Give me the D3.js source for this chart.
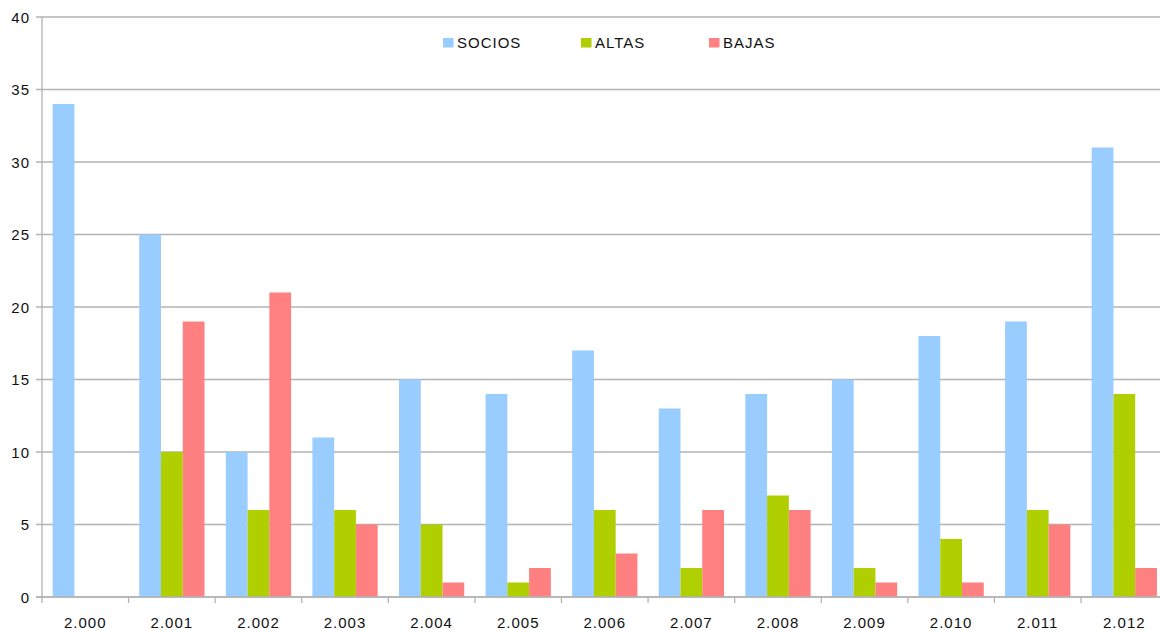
<!DOCTYPE html>
<html>
<head>
<meta charset="utf-8">
<script src="https://cdn.jsdelivr.net/npm/d3@7"></script>
<style>
  body { margin: 0; background: #fff; }
  text { font-family: "Liberation Sans", Arial, sans-serif; fill: #111; }
</style>
</head>
<body>
<div id="chart"></div>
<script>
// data
const years = ["2.000", "2.001", "2.002", "2.003", "2.004", "2.005", "2.006",
  "2.007", "2.008", "2.009", "2.010", "2.011", "2.012"];
const socios = [34, 25, 10, 11, 15, 14, 17, 13, 14, 15, 18, 19, 31];
const altas = [0, 10, 6, 6, 5, 1, 6, 2, 7, 2, 4, 6, 14];
const bajas = [0, 19, 21, 5, 1, 2, 3, 6, 6, 1, 1, 5, 2];
const seriesNames = ["SOCIOS", "ALTAS", "BAJAS"];
const yTicks = [0, 5, 10, 15, 20, 25, 30, 35, 40];

const colors = ["#99ccff", "#b0cf00", "#ff8080"];
const width = 1160, height = 630;

const svg = d3.select("#chart").append("svg")
  .attr("width", width).attr("height", height);

const x = d3.scaleBand().domain(years).range([42, 1167.6]).paddingInner(0).paddingOuter(0);
const xs = d3.scaleBand().domain(seriesNames).range([0, x.bandwidth()]).paddingInner(0).paddingOuter(0.49);
const y = d3.scaleLinear().domain([0, 40]).range([597, 17]);

// gridlines
svg.append("g")
  .selectAll("line")
  .data(yTicks)
  .join("line")
  .attr("x1", 36).attr("x2", width)
  .attr("y1", (d) => y(d)).attr("y2", (d) => y(d))
  .attr("stroke", "#b3b3b3").attr("stroke-width", 1.3);

// y labels
svg.append("g")
  .selectAll("text")
  .data(yTicks)
  .join("text")
  .attr("x", 30).attr("y", (d) => y(d) + 5.5)
  .attr("text-anchor", "end")
  .attr("font-size", 15)
  .attr("letter-spacing", 1)
  .text((d) => d);

// bars
const rows = years.map((yr, i) => ({ year: yr, vals: [socios[i], altas[i], bajas[i]] }));
const groups = svg.append("g")
  .selectAll("g")
  .data(rows)
  .join("g")
  .attr("transform", (d) => `translate(${x(d.year)},0)`);

groups.selectAll("rect")
  .data((d) => d.vals.map((v, k) => ({ name: seriesNames[k], v: v, k: k })))
  .join("rect")
  .attr("x", (d) => xs(d.name))
  .attr("width", xs.bandwidth())
  .attr("y", (d) => y(d.v))
  .attr("height", (d) => y(0) - y(d.v))
  .attr("fill", (d) => colors[d.k]);

// axes lines
svg.append("line")
  .attr("x1", 42).attr("x2", 42).attr("y1", 17).attr("y2", 603)
  .attr("stroke", "#b3b3b3").attr("stroke-width", 1.3);
svg.append("line")
  .attr("x1", 36).attr("x2", width).attr("y1", y(0)).attr("y2", y(0))
  .attr("stroke", "#b3b3b3").attr("stroke-width", 1.3);

// category ticks
svg.append("g")
  .selectAll("line")
  .data(years.slice(1))
  .join("line")
  .attr("x1", (d) => x(d)).attr("x2", (d) => x(d))
  .attr("y1", y(0)).attr("y2", 603)
  .attr("stroke", "#b3b3b3").attr("stroke-width", 1.3);

svg.append("g")
  .selectAll("text")
  .data(years)
  .join("text")
  .attr("x", (d) => x(d) + x.bandwidth() / 2)
  .attr("y", 627.5)
  .attr("text-anchor", "middle")
  .attr("font-size", 15)
  .attr("letter-spacing", 1)
  .text((d) => d);

// legend
const legendX = [443, 581, 709];
const legend = svg.append("g")
  .selectAll("g")
  .data(seriesNames)
  .join("g")
  .attr("transform", (d, i) => `translate(${legendX[i]},38)`);
legend.append("rect")
  .attr("width", 10.5).attr("height", 9.5)
  .attr("fill", (d, i) => colors[i]);
legend.append("text")
  .attr("x", 14).attr("y", 9.8)
  .attr("font-size", 15)
  .attr("letter-spacing", 1)
  .text((d) => d);
</script>
</body>
</html>
